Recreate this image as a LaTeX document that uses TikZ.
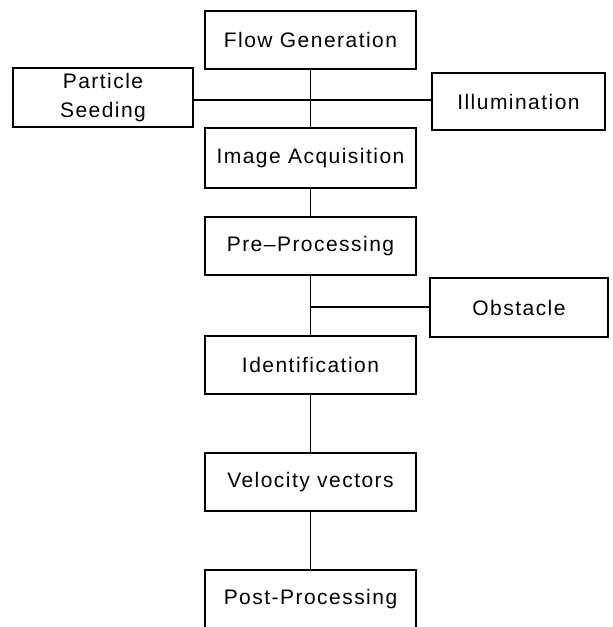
\documentclass[tikz,border=0pt]{standalone}
\usepackage{fontspec}
\setmainfont{Liberation Sans}[LetterSpace=7]
\begin{document}
\begin{tikzpicture}[x=1pt,y=-1pt,
	stage/.style={draw,line width=1.5pt,minimum width=211pt,minimum height=58pt,inner sep=0pt,align=center,font=\fontsize{21}{29}\selectfont},
	side/.style={stage,minimum width=178pt}]

	\useasboundingbox (0,0) rectangle (613,627);

	\node[stage] (flow) at (310.5,40) {Flow Generation};
	\node[stage, minimum height=60pt] (acq) [below of=flow, node distance=118pt] {Image Acquisition};
	\node[stage] (pre) [below of=acq, node distance=88pt] {Pre--Processing};
	\node[stage] (ident) [below of=pre, node distance=119pt] {Identification};
	\node[stage] (vel) [below of=ident, node distance=117pt] {Velocity vectors};
	\node[stage] (post) [below of=vel, node distance=117pt] {Post-Processing};

	\node[side, minimum width=180pt, minimum height=59pt] (seed) at (103,97.5) {Particle\\Seeding};
	\node[side, minimum width=173pt, minimum height=57pt] (illum) at (518.5,101.5) {Illumination};
	\node[side, minimum height=59pt] (obst) at (519,307.5) {Obstacle};

	\coordinate (hub) at (310.5,100);
	\coordinate (fork) at (310.5,307);

	\draw[line width=1.5pt] (flow) -- (acq) -- (pre) -- (ident) -- (vel) -- (post);
	\draw[line width=1.5pt] (seed.east |- hub) -- (illum.west |- hub);
	\draw[line width=1.5pt] (obst.west |- fork) -- (fork);

\end{tikzpicture}
\end{document}
